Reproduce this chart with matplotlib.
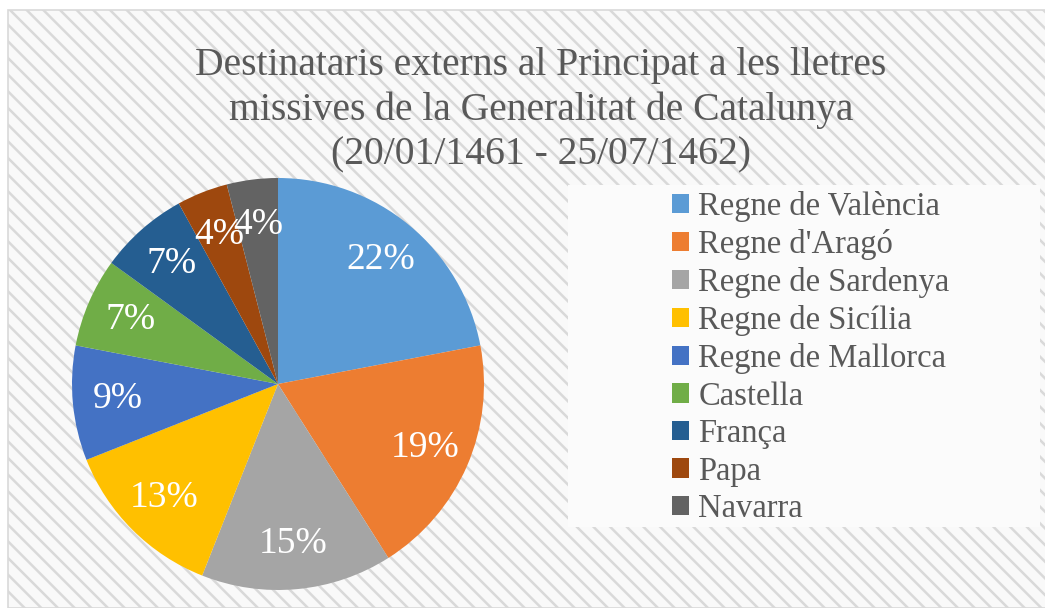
import matplotlib
matplotlib.use("Agg")
import matplotlib.pyplot as plt
import matplotlib.patches as mpatches

# dades
categories = ["Regne de València", "Regne d'Aragó", "Regne de Sardenya",
              "Regne de Sicília", "Regne de Mallorca", "Castella",
              "França", "Papa", "Navarra"]
percentatges = [22, 19, 15, 13, 9, 7, 7, 4, 4]
colors = ["#5B9BD5", "#ED7D31", "#A5A5A5", "#FFC000", "#4472C4",
          "#70AD47", "#255E91", "#9E480E", "#636363"]
title = ("Destinataris externs al Principat a les lletres\n"
         "missives de la Generalitat de Catalunya\n"
         "(20/01/1461 - 25/07/1462)")

W, H = 1045, 608
plt.rcParams["font.family"] = ["Liberation Serif", "DejaVu Serif"]
plt.rcParams["hatch.color"] = "#F0F0F0"
plt.rcParams["hatch.linewidth"] = 1.8

fig = plt.figure(figsize=(W / 100, H / 100), dpi=100)
fig.patch.set_facecolor("white")

# fons ratllat amb vora
bg = mpatches.Rectangle((8 / W, 0), 1.0, 1 - 10 / H, transform=fig.transFigure,
                        facecolor="#F9F9F9", edgecolor="#D9D9D9", lw=1.2,
                        hatch="\\\\", zorder=0)
fig.patches.append(bg)

# caixa de la llegenda
leg_bg = mpatches.Rectangle((568 / W, 1 - 527 / H), (1040 - 568) / W, (527 - 185) / H,
                            transform=fig.transFigure, facecolor="#FBFBFB",
                            edgecolor="none", zorder=1)
fig.patches.append(leg_bg)

fig.text(541 / W, 1 - 110 / H, title, ha="center", va="center",
         fontsize=28.5, color="#595959", linespacing=1.27, zorder=3)

cx, cy, r = 278, 384, 206
ax = fig.add_axes([(cx - r) / W, 1 - (cy + r) / H, 2 * r / W, 2 * r / H], zorder=2)
ax.patch.set_visible(False)
wedges, texts, autotexts = ax.pie(
    percentatges, colors=colors, startangle=90, counterclock=False,
    autopct="%d%%", pctdistance=0.78,
    wedgeprops=dict(linewidth=0),
    textprops=dict(color="white", fontsize=27))
ax.set_aspect("equal")
ax.set_xlim(-1, 1)
ax.set_ylim(-1, 1)
ax.axis("off")

handles = [mpatches.Patch(facecolor=c, label=l) for c, l in zip(colors, categories)]
leg = fig.legend(handles=handles, loc="upper left", bbox_to_anchor=(672 / W, 1 - 191 / H),
                 frameon=False, fontsize=23.5, labelcolor="#595959",
                 handlelength=0.53, handleheight=0.53, handletextpad=0.28,
                 labelspacing=0.215, borderpad=0, borderaxespad=0)
leg.set_zorder(3)

fig.savefig("out.png", dpi=100)
